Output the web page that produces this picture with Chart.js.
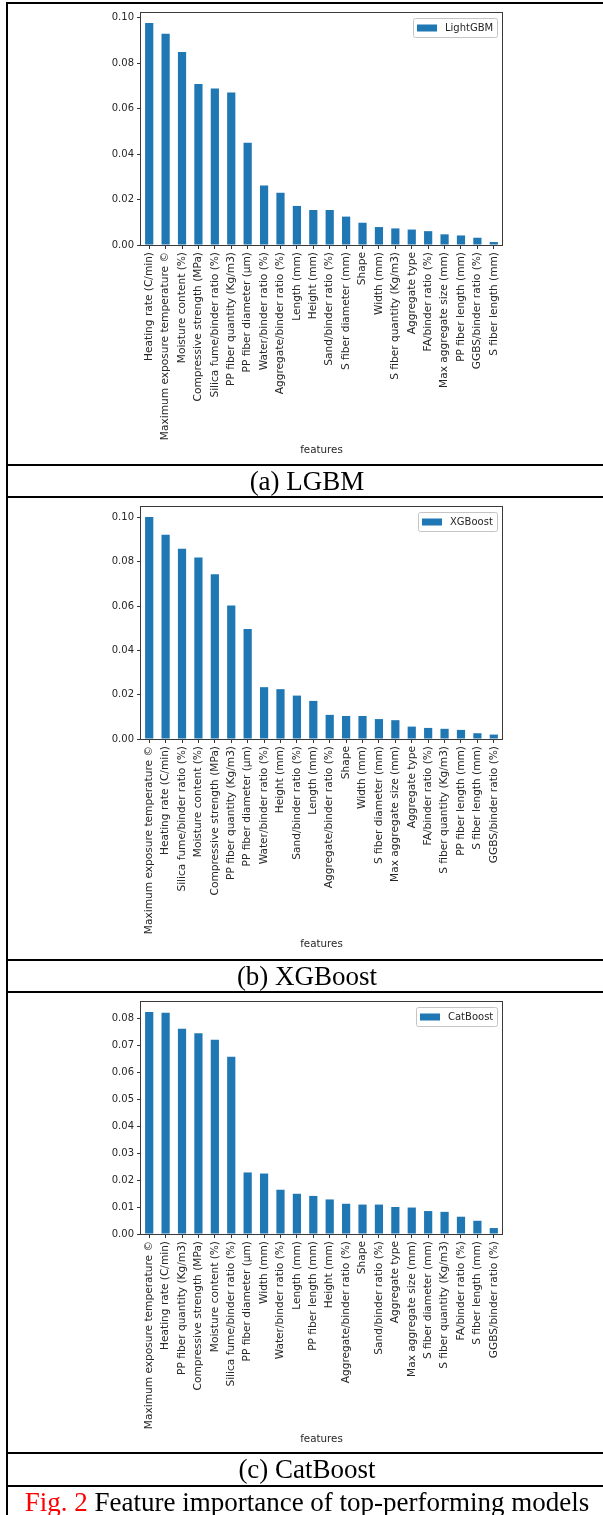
<!DOCTYPE html>
<html>
<head>
<meta charset="utf-8">
<script src="https://cdn.jsdelivr.net/npm/chart.js@4.4.1/dist/chart.umd.min.js"></script>
<style>
  html, body { margin: 0; padding: 0; background: #fff; }
  #page { position: relative; width: 603px; height: 1515px; overflow: hidden; background: #fff; }
  .hline { position: absolute; left: 6px; width: 600px; height: 2px; background: #000; }
  .vline { position: absolute; left: 6px; top: 2px; width: 2px; height: 1515px; background: #000; }
  .cap { position: absolute; left: 8px; width: 598px; height: 32px; line-height: 32px; text-align: center;
         font-family: "Liberation Serif", "Times New Roman", serif; font-size: 27px; color: #000; white-space: nowrap; }
  .cap .red { color: #ff0000; }
  canvas.panel { position: absolute; left: 0; }
</style>
</head>
<body>
<div id="page">
  <canvas id="lgbm" class="panel" width="603" height="460" style="top:3px"></canvas>
  <canvas id="xgb" class="panel" width="603" height="460" style="top:497px"></canvas>
  <canvas id="cat" class="panel" width="603" height="460" style="top:992px"></canvas>

  <div class="vline"></div>
  <div class="hline" style="top:2px"></div>
  <div class="hline" style="top:464px"></div>
  <div class="hline" style="top:496px"></div>
  <div class="hline" style="top:959px"></div>
  <div class="hline" style="top:991px"></div>
  <div class="hline" style="top:1452px"></div>
  <div class="hline" style="top:1485px"></div>

  <div class="cap" style="top:465px">(a) LGBM</div>
  <div class="cap" style="top:960px">(b) XGBoost</div>
  <div class="cap" style="top:1453px">(c) CatBoost</div>
  <div class="cap" style="top:1486px"><span class="red">Fig. 2</span> Feature importance of top-performing models</div>
</div>

<script>
// ---- feature importance data ----
const lgbmFeatures = [
  "Heating rate (C/min)", "Maximum exposure temperature ©", "Moisture content (%)",
  "Compressive strength (MPa)", "Silica fume/binder ratio (%)", "PP fiber quantity (Kg/m3)",
  "PP fiber diameter (μm)", "Water/binder ratio (%)", "Aggregate/binder ratio (%)",
  "Length (mm)", "Height (mm)", "Sand/binder ratio (%)", "S fiber diameter (mm)", "Shape",
  "Width (mm)", "S fiber quantity (Kg/m3)", "Aggregate type", "FA/binder ratio (%)",
  "Max aggregate size (mm)", "PP fiber length (mm)", "GGBS/binder ratio (%)", "S fiber length (mm)"
];
const lgbmImportance = [
  0.0977, 0.0930, 0.0850, 0.0709, 0.0689, 0.0671, 0.0450, 0.0262, 0.0230, 0.0172, 0.0154,
  0.0154, 0.0125, 0.0098, 0.0079, 0.0073, 0.0068, 0.0061, 0.0047, 0.0042, 0.0032, 0.0013
];

const xgbFeatures = [
  "Maximum exposure temperature ©", "Heating rate (C/min)", "Silica fume/binder ratio (%)",
  "Moisture content (%)", "Compressive strength (MPa)", "PP fiber quantity (Kg/m3)",
  "PP fiber diameter (μm)", "Water/binder ratio (%)", "Height (mm)", "Sand/binder ratio (%)",
  "Length (mm)", "Aggregate/binder ratio (%)", "Shape", "Width (mm)", "S fiber diameter (mm)",
  "Max aggregate size (mm)", "Aggregate type", "FA/binder ratio (%)", "S fiber quantity (Kg/m3)",
  "PP fiber length (mm)", "S fiber length (mm)", "GGBS/binder ratio (%)"
];
const xgbImportance = [
  0.1002, 0.0922, 0.0859, 0.0820, 0.0744, 0.0603, 0.0497, 0.0234, 0.0225, 0.0196, 0.0172,
  0.0109, 0.0104, 0.0104, 0.0090, 0.0085, 0.0056, 0.0050, 0.0046, 0.0041, 0.0026, 0.0020
];

const catFeatures = [
  "Maximum exposure temperature ©", "Heating rate (C/min)", "PP fiber quantity (Kg/m3)",
  "Compressive strength (MPa)", "Moisture content (%)", "Silica fume/binder ratio (%)",
  "PP fiber diameter (μm)", "Width (mm)", "Water/binder ratio (%)", "Length (mm)",
  "PP fiber length (mm)", "Height (mm)", "Aggregate/binder ratio (%)", "Shape",
  "Sand/binder ratio (%)", "Aggregate type", "Max aggregate size (mm)", "S fiber diameter (mm)",
  "S fiber quantity (Kg/m3)", "FA/binder ratio (%)", "S fiber length (mm)", "GGBS/binder ratio (%)"
];
const catImportance = [
  0.0822, 0.0820, 0.0760, 0.0744, 0.0720, 0.0657, 0.0228, 0.0224, 0.0164, 0.0149, 0.0141,
  0.0128, 0.0112, 0.0109, 0.0109, 0.0100, 0.0098, 0.0085, 0.0082, 0.0064, 0.0049, 0.0022
];

// y-axis tick values
const ticksTwoHundredths = [0.00, 0.02, 0.04, 0.06, 0.08, 0.10];
const ticksHundredths = [0.00, 0.01, 0.02, 0.03, 0.04, 0.05, 0.06, 0.07, 0.08];

const BAR_BLUE = "#1f77b4";
const TEXT = "#262626";
const FONT = "DejaVu Sans";

// Axes frame and the boxed legend drawn in the upper-right corner of the plot
const frameAndLegend = {
  id: "frameAndLegend",
  afterDraw(chart) {
    const { ctx, chartArea: a } = chart;
    ctx.save();
    ctx.strokeStyle = "#3a3a3a";
    ctx.lineWidth = 1;
    ctx.strokeRect(Math.round(a.left) - 0.5, Math.round(a.top) + 0.5,
                   Math.round(a.right - a.left) + 1, Math.round(a.bottom - a.top));

    const ds = chart.data.datasets[0];
    ctx.font = `10px "${FONT}"`;
    const tw = ctx.measureText(ds.label).width;
    const pad = 4, handle = 20, gap = 8, h = 19;
    const w = pad + handle + gap + tw + pad;
    const x = Math.round(a.right - 5 - w), y = Math.round(a.top + 6);
    ctx.beginPath();
    ctx.roundRect(x + 0.5, y + 0.5, Math.round(w), h, 2);
    ctx.fillStyle = "rgba(255,255,255,0.8)";
    ctx.fill();
    ctx.strokeStyle = "#c4c4c4";
    ctx.stroke();
    ctx.fillStyle = ds.backgroundColor;
    ctx.fillRect(x + pad, y + h / 2 - 3, handle, 7);
    ctx.fillStyle = TEXT;
    ctx.textBaseline = "middle";
    ctx.textAlign = "left";
    ctx.fillText(ds.label, x + pad + handle + gap, y + h / 2 + 1);
    ctx.restore();
  }
};

function importanceChart(canvasId, label, features, values, yTicks) {
  const yMax = Math.max(...values) * 1.05;
  return new Chart(document.getElementById(canvasId), {
    type: "bar",
    data: {
      labels: features,
      datasets: [{
        label: label,
        data: values,
        backgroundColor: BAR_BLUE,
        borderWidth: 0,
        categoryPercentage: 1.0,
        barPercentage: 0.5
      }]
    },
    options: {
      responsive: false,
      animation: false,
      devicePixelRatio: 1,
      layout: { padding: { left: 91, right: 101, top: 7, bottom: 0 } },
      plugins: { legend: { display: false }, tooltip: { enabled: false } },
      scales: {
        x: {
          offset: true,
          grid: { display: true, offset: false, drawOnChartArea: false, drawTicks: true,
                  tickLength: 4, color: "#333", lineWidth: 1 },
          border: { display: false },
          ticks: { autoSkip: false, minRotation: 90, maxRotation: 90, padding: 3,
                   color: TEXT, font: { family: FONT, size: 10.6 } },
          title: { display: true, text: "features", color: TEXT,
                   font: { family: FONT, size: 10.3 }, padding: { top: 0, bottom: 6 } },
          afterFit(scale) { scale.height = 218; scale.paddingLeft = 0; scale.paddingRight = 0; }
        },
        y: {
          min: 0,
          max: yMax,
          grid: { display: true, drawOnChartArea: false, drawTicks: true,
                  tickLength: 4, color: "#333", lineWidth: 1 },
          border: { display: false },
          ticks: { padding: 3, color: TEXT, font: { family: FONT, size: 10 },
                   callback: (v) => Number(v).toFixed(2) },
          afterBuildTicks(scale) { scale.ticks = yTicks.map(v => ({ value: v })); },
          afterFit(scale) { scale.width = 50; }
        }
      }
    },
    plugins: [frameAndLegend]
  });
}

importanceChart("lgbm", "LightGBM", lgbmFeatures, lgbmImportance, ticksTwoHundredths);
importanceChart("xgb", "XGBoost", xgbFeatures, xgbImportance, ticksTwoHundredths);
importanceChart("cat", "CatBoost", catFeatures, catImportance, ticksHundredths);
</script>
</body>
</html>
